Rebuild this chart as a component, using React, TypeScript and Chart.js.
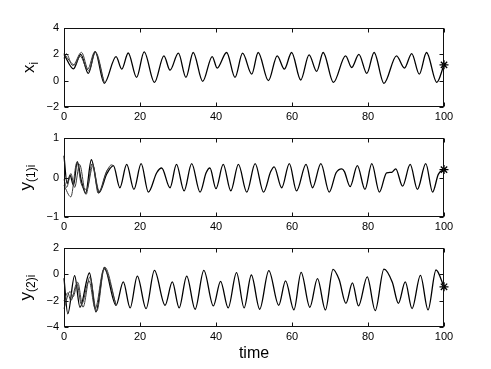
import React, { useEffect, useRef } from 'react';
import { Chart, registerables } from 'chart.js';

Chart.register(...registerables);

const FONT = "'Liberation Sans', Arial, Helvetica, sans-serif";

// ---- Panel 1: x_i ----
const X_MAIN_T = [0, 2.5, 4.4, 6.4, 8.2, 10.6, 13.7, 15.2, 16.9, 19.1, 21.1, 23.8, 26.3, 27.9, 30.1, 32.1, 34.0, 36.5, 39.0, 40.3, 42.8, 45.0, 47.0, 49.4, 51.1, 53.8, 56.1, 58.0, 59.9, 62.3, 64.5, 66.5, 68.2, 70.9, 74.1, 75.7, 77.6, 79.7, 81.6, 84.2, 87.5, 89.6, 91.5, 93.5, 95.4, 98.1, 100];
const X_MAIN_V = [2.0, 0.9, 2.0, 0.55, 2.2, -0.2, 1.83, 0.88, 2.1, 0.25, 2.19, -0.13, 1.89, 0.8, 2.09, 0.25, 2.14, -0.05, 1.83, 0.96, 2.14, 0.25, 2.09, 0.5, 2.14, 0.0, 1.89, 0.88, 2.14, 0.05, 1.96, 0.7, 2.14, -0.13, 1.89, 1.0, 2.0, 0.55, 2.14, -0.2, 1.89, 0.96, 2.06, 0.5, 2.14, -0.13, 1.2];
const X_B_T = [0, 0.6, 2.3, 4.6, 6.5, 8.3, 10.6];
const X_B_V = [1.7, 2.05, 1.15, 2.15, 0.75, 2.15, -0.15];
const X_C_T = [0, 0.8, 2.8, 4.3, 6.2, 8.1, 10.6];
const X_C_V = [2.1, 1.75, 1.2, 1.85, 0.85, 2.2, -0.2];
const X_END = 1.2;
const X_TICKS = [-2, 0, 2, 4];

// ---- Panel 2: y_(1)i ----
const Y1_MAIN_T = [0, 0.8, 1.6, 2.5, 3.5, 4.6, 5.7, 7.2, 9.2, 11.3, 13.0, 14.7, 16.5, 18.4, 20.3, 22.2, 24.4, 25.7, 27.9, 29.6, 31.6, 33.6, 35.8, 37.4, 38.4, 40.0, 41.9, 43.9, 45.9, 48.1, 50.3, 52.5, 54.4, 55.3, 57.3, 59.3, 61.2, 63.7, 65.4, 67.6, 69.8, 71.6, 73.1, 73.8, 75.3, 77.2, 79.2, 81.0, 83.0, 84.9, 86.2, 87.3, 89.1, 91.1, 93.0, 95.2, 97.0, 98.5, 100];
const Y1_MAIN_V = [0.55, -0.15, 0.05, -0.2, 0.4, -0.1, -0.4, 0.45, -0.38, 0.1, 0.3, -0.26, 0.33, -0.3, 0.35, -0.37, 0.12, 0.24, -0.26, 0.33, -0.34, 0.35, -0.37, 0.12, 0.24, -0.28, 0.33, -0.34, 0.33, -0.37, 0.35, -0.37, 0.15, 0.27, -0.26, 0.35, -0.34, 0.33, -0.26, 0.35, -0.37, 0.12, 0.22, 0.15, -0.23, 0.3, -0.3, 0.35, -0.37, 0.12, 0.13, 0.22, -0.22, 0.33, -0.3, 0.35, -0.37, 0.08, 0.2];
const Y1_B_T = [0, 0.7, 1.8, 2.8, 4.1, 5.8, 7.4, 9.3, 11.3, 12.2, 13.0];
const Y1_B_V = [-0.05, -0.25, 0.1, -0.25, 0.33, -0.43, 0.35, -0.35, 0.18, 0.25, 0.3];
const Y1_C_T = [0, 1.8, 3.4, 4.5, 6.0, 7.6, 9.0, 11.0, 12.5, 13.0];
const Y1_C_V = [-0.2, -0.49, 0.38, -0.15, -0.3, 0.3, -0.4, 0.1, 0.32, 0.3];
const Y1_END = 0.2;
const Y1_TICKS = [-1, 0, 1];

// ---- Panel 3: y_(2)i ----
const Y2_MAIN_T = [0, 1.0, 2.8, 4.2, 6.7, 8.4, 10.6, 13.7, 15.6, 17.4, 19.3, 21.6, 23.8, 26.6, 28.5, 30.3, 32.3, 34.5, 36.8, 39.3, 41.2, 43.2, 45.4, 47.4, 49.3, 51.5, 53.9, 56.5, 58.3, 60.5, 62.4, 64.7, 66.7, 68.8, 70.8, 72.4, 74.2, 75.9, 77.5, 79.8, 81.9, 84.2, 86.4, 88.0, 89.8, 91.6, 93.8, 95.8, 97.9, 100];
const Y2_MAIN_V = [-0.3, -3.0, -0.1, -2.5, 0.1, -2.85, 0.5, -2.35, -0.58, -2.55, -0.13, -2.6, 0.3, -2.35, -0.58, -2.55, -0.13, -2.65, 0.3, -2.4, -0.53, -2.55, 0.13, -2.55, -0.05, -2.65, 0.28, -2.35, -0.5, -2.7, 0.15, -2.5, -0.33, -2.7, 0.38, -0.4, -2.2, -0.65, -2.4, -0.2, -2.75, 0.4, -0.6, -2.2, -0.58, -2.6, -0.08, -2.7, 0.33, -0.95];
const Y2_B_T = [0, 1.0, 1.8, 3.4, 4.6, 6.6, 8.2, 10.5, 13.7];
const Y2_B_V = [-2.0, -1.4, -2.0, -0.7, -2.3, -0.5, -2.6, 0.4, -2.3];
const Y2_C_T = [0, 1.6, 2.4, 3.6, 5.0, 6.8, 8.6, 10.7, 13.7];
const Y2_C_V = [-2.6, -1.3, -1.7, -0.6, -2.5, -0.2, -2.8, 0.55, -2.35];
const Y2_END = -0.95;
const Y2_TICKS = [-4, -2, 0, 2];

const TIME_TICKS = [0, 20, 40, 60, 80, 100];
const T_END = 100;

type Series = { t: number[]; v: number[]; main: boolean };
type PanelProps = {
  top: number;
  height: number;
  padTop: number;
  padBottom: number;
  yTicks: number[];
  series: Series[];
  end: number;
  labelMain: string;
  labelSub: string;
  baseMain: number;
  baseSub: number;
  xlabel?: string;
};

const pts = (t: number[], v: number[]) => t.map((x, i) => ({ x, y: v[i] }));
const fmt = (v: number) => (v < 0 ? '\u2212' + Math.abs(v) : String(v));

function Panel(p: PanelProps) {
  const ref = useRef<HTMLCanvasElement | null>(null);
  useEffect(() => {
    if (!ref.current) return;
    const yMin = p.yTicks[0];
    const yMax = p.yTicks[p.yTicks.length - 1];
    const frame = {
      id: 'frame',
      afterDraw(chart: any) {
        const ctx = chart.ctx as CanvasRenderingContext2D;
        const a = chart.chartArea;
        const xs = chart.scales.x;
        const ys = chart.scales.y;
        ctx.save();
        ctx.strokeStyle = '#111';
        ctx.lineWidth = 1;
        const L = Math.round(a.left) + 0.5;
        const R = Math.round(a.right) - 0.5;
        const T = Math.round(a.top) + 0.5;
        const B = Math.round(a.bottom) - 0.5;
        ctx.strokeRect(L, T, R - L, B - T);
        const tl = 4;
        ctx.beginPath();
        TIME_TICKS.forEach((t) => {
          const x = Math.round(xs.getPixelForValue(t)) + 0.5;
          ctx.moveTo(x, B); ctx.lineTo(x, B - tl);
          ctx.moveTo(x, T); ctx.lineTo(x, T + tl);
        });
        p.yTicks.forEach((v) => {
          const y = Math.round(ys.getPixelForValue(v)) + 0.5;
          ctx.moveTo(L, y); ctx.lineTo(L + tl, y);
          ctx.moveTo(R, y); ctx.lineTo(R - tl, y);
        });
        ctx.stroke();

        // y label with subscript (rotated)
        const cy = (a.top + a.bottom) / 2;
        ctx.fillStyle = '#000';
        ctx.translate(0, cy);
        ctx.rotate(-Math.PI / 2);
        ctx.textBaseline = 'alphabetic';
        ctx.textAlign = 'left';
        ctx.font = `17px ${FONT}`;
        const wm = ctx.measureText(p.labelMain).width;
        ctx.font = `12px ${FONT}`;
        const ws = ctx.measureText(p.labelSub).width;
        const sx = -(wm + ws) / 2;
        ctx.font = `17px ${FONT}`;
        ctx.fillText(p.labelMain, sx, p.baseMain);
        ctx.font = `12px ${FONT}`;
        ctx.fillText(p.labelSub, sx + wm, p.baseSub);
        ctx.restore();

        if (p.xlabel) {
          ctx.save();
          ctx.fillStyle = '#000';
          ctx.font = `16px ${FONT}`;
          ctx.textAlign = 'center';
          ctx.textBaseline = 'middle';
          ctx.fillText(p.xlabel, (a.left + a.right) / 2, a.bottom + 27);
          ctx.restore();
        }
      },
    };
    const datasets: any[] = p.series.map((s) => ({
      data: pts(s.t, s.v),
      borderColor: s.main ? '#000' : '#3a3a3a',
      borderWidth: s.main ? 1.3 : 1,
      pointRadius: 0,
      cubicInterpolationMode: 'monotone',
      fill: false,
      clip: false,
    }));
    datasets.push({
      data: [{ x: T_END, y: p.end }],
      showLine: false,
      pointStyle: 'star',
      pointRadius: 4.5,
      borderColor: '#000',
      borderWidth: 1.3,
      backgroundColor: '#000',
      clip: false,
    });
    const chart = new Chart(ref.current, {
      type: 'line',
      data: { datasets },
      options: {
        animation: false,
        responsive: false,
        events: [],
        layout: { padding: { left: 0, right: 47, top: p.padTop, bottom: p.padBottom } },
        plugins: { legend: { display: false }, tooltip: { enabled: false } },
        scales: {
          x: {
            type: 'linear',
            min: 0,
            max: 100,
            afterBuildTicks: (s: any) => { s.ticks = TIME_TICKS.map((v) => ({ value: v })); },
            ticks: { color: '#000', font: { size: 11, family: FONT }, padding: 3, maxRotation: 0 },
            grid: { display: false, drawTicks: false },
            border: { display: false },
            afterFit: (s: any) => { s.height = 16; },
          },
          y: {
            type: 'linear',
            min: yMin,
            max: yMax,
            afterBuildTicks: (s: any) => { s.ticks = p.yTicks.map((v) => ({ value: v })); },
            ticks: { color: '#000', font: { size: 11, family: FONT }, padding: 5, callback: (v: any) => fmt(Number(v)) },
            grid: { display: false, drawTicks: false },
            border: { display: false },
            afterFit: (s: any) => { s.width = 64; },
          },
        },
      } as any,
      plugins: [frame],
    });
    return () => chart.destroy();
  }, []);
  return (
    <canvas
      ref={ref}
      width={491}
      height={p.height}
      style={{ position: 'absolute', left: 0, top: p.top, width: 491, height: p.height, display: 'block' }}
    />
  );
}

export default function App() {
  return (
    <div style={{ position: 'absolute', left: 0, top: 0, width: 491, height: 369, background: '#fff', overflow: 'hidden' }}>
      <Panel
        top={0}
        height={123}
        padTop={28}
        padBottom={0}
        yTicks={X_TICKS}
        series={[
          { t: X_B_T, v: X_B_V, main: false },
          { t: X_C_T, v: X_C_V, main: false },
          { t: X_MAIN_T, v: X_MAIN_V, main: true },
        ]}
        end={X_END}
        labelMain="x"
        labelSub="i"
        baseMain={34}
        baseSub={38}
      />
      <Panel
        top={123}
        height={110}
        padTop={15}
        padBottom={0}
        yTicks={Y1_TICKS}
        series={[
          { t: Y1_B_T, v: Y1_B_V, main: false },
          { t: Y1_C_T, v: Y1_C_V, main: false },
          { t: Y1_MAIN_T, v: Y1_MAIN_V, main: true },
        ]}
        end={Y1_END}
        labelMain="y"
        labelSub="(1)i"
        baseMain={31}
        baseSub={35}
      />
      <Panel
        top={233}
        height={136}
        padTop={15}
        padBottom={26}
        yTicks={Y2_TICKS}
        series={[
          { t: Y2_B_T, v: Y2_B_V, main: false },
          { t: Y2_C_T, v: Y2_C_V, main: false },
          { t: Y2_MAIN_T, v: Y2_MAIN_V, main: true },
        ]}
        end={Y2_END}
        labelMain="y"
        labelSub="(2)i"
        baseMain={31}
        baseSub={35}
        xlabel="time"
      />
    </div>
  );
}
